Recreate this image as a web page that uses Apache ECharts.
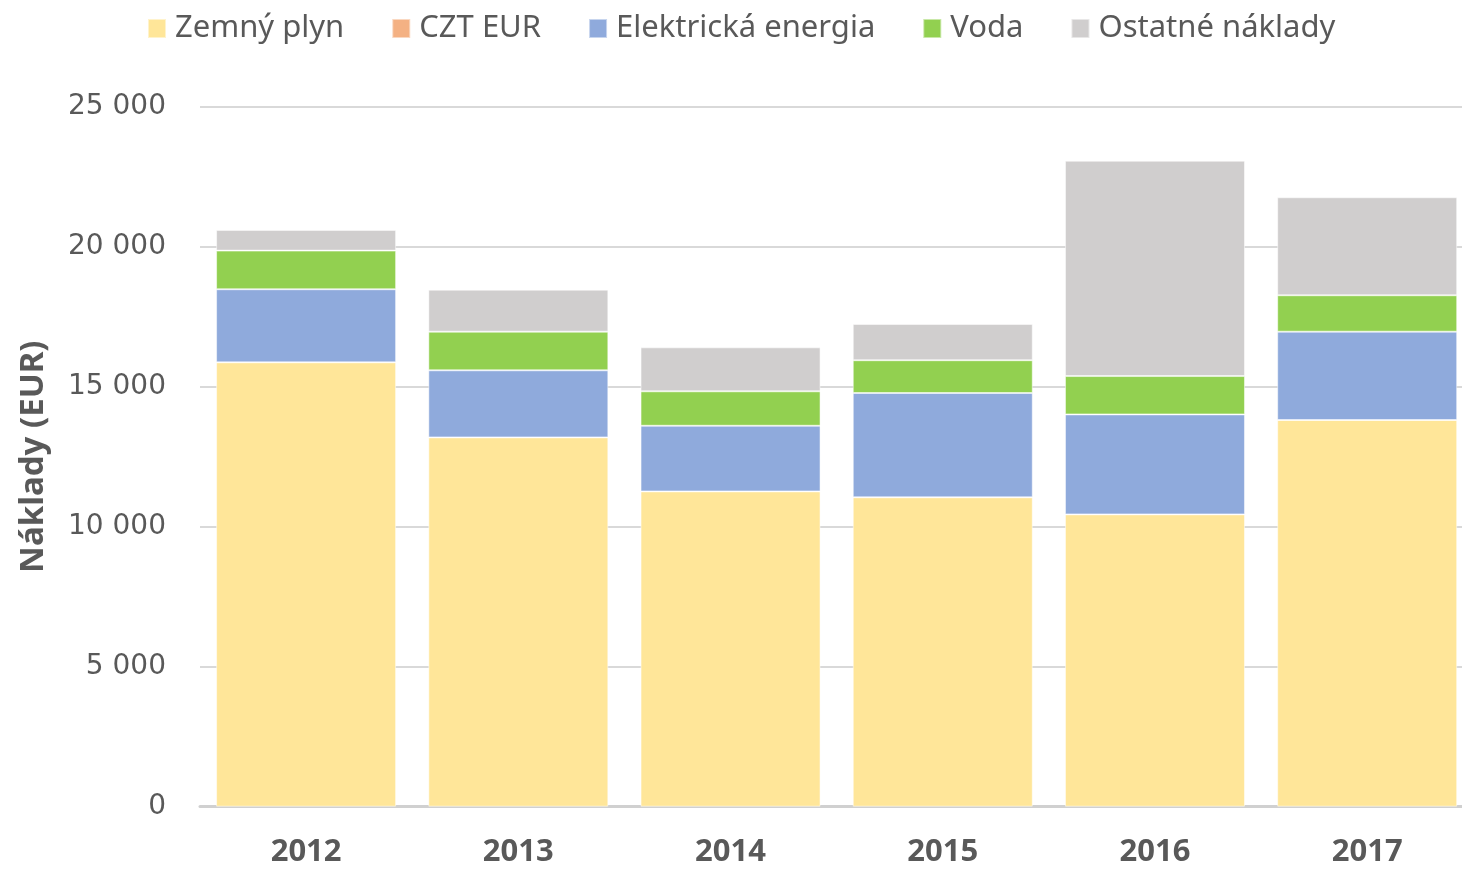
<!DOCTYPE html>
<html>
<head>
<meta charset="utf-8">
<script src="https://cdn.jsdelivr.net/npm/echarts@6/dist/echarts.min.js"></script>
<style>html,body{margin:0;padding:0;background:#fff;}#c{width:1462px;height:871px;}</style>
</head>
<body>
<div id="c"></div>
<script>
var years = ['2012', '2013', '2014', '2015', '2016', '2017'];
var zemnyPlyn = [15870, 13190, 11260, 11050, 10440, 13810];
var cztEur = [0, 0, 0, 0, 0, 0];
var elektrickaEnergia = [2610, 2395, 2345, 3725, 3570, 3155];
var voda = [1380, 1380, 1230, 1170, 1370, 1300];
var ostatneNaklady = [740, 1500, 1570, 1295, 7690, 3500];
var yTicks = [0, 5000, 10000, 15000, 20000, 25000];

var seriesDefs = [
  {name: 'Zemný plyn', data: zemnyPlyn, color: '#FFE699'},
  {name: 'CZT EUR', data: cztEur, color: '#F4B183'},
  {name: 'Elektrická energia', data: elektrickaEnergia, color: '#8FAADC'},
  {name: 'Voda', data: voda, color: '#92D050'},
  {name: 'Ostatné náklady', data: ostatneNaklady, color: '#D0CECE'}
];

var FONT = 'Noto Sans';
var TXT = '#595959';

var chart = echarts.init(document.getElementById('c'), null, {renderer: 'canvas'});
chart.setOption({
  animation: false,
  backgroundColor: '#fff',
  textStyle: {fontFamily: FONT},
  legend: {
    top: 8,
    left: 142,
    itemWidth: 18,
    itemHeight: 19,
    itemGap: 47,
    icon: 'rect',
    textStyle: {fontFamily: FONT, fontSize: 31, color: TXT, padding: [0, 0, 0, 4]},
    data: seriesDefs.map(function (s) { return s.name; })
  },
  grid: {left: 200, width: 1273.3, top: 106.7, height: 700, containLabel: false, outerBoundsMode: 'none'},
  xAxis: {
    type: 'category',
    data: years,
    axisTick: {show: false},
    axisLine: {show: true, lineStyle: {color: '#D0D0D0', width: 3}},
    axisLabel: {fontFamily: FONT, fontSize: 31, fontWeight: 'bold', color: TXT, margin: 30}
  },
  yAxis: {
    type: 'value',
    min: yTicks[0],
    max: yTicks[yTicks.length - 1],
    interval: yTicks[1] - yTicks[0],
    name: 'Náklady (EUR)',
    nameLocation: 'middle',
    nameGap: 150,
    nameTextStyle: {fontFamily: FONT, fontSize: 33, fontWeight: 'bold', color: TXT},
    axisLine: {show: false},
    axisTick: {show: false},
    splitLine: {lineStyle: {color: '#D9D9D9', width: 2}},
    axisLabel: {
      fontFamily: 'DejaVu Sans', fontSize: 28, color: TXT, margin: 34,
      formatter: function (v) { return String(v).replace(/\B(?=(\d{3})+(?!\d))/g, ' '); }
    }
  },
  series: seriesDefs.map(function (s) {
    return {
      name: s.name,
      type: 'bar',
      stack: 'total',
      data: s.data,
      barWidth: 180,
      itemStyle: {color: s.color, borderColor: 'rgba(255,255,255,0.5)', borderWidth: 1}
    };
  })
});
</script>
</body>
</html>
